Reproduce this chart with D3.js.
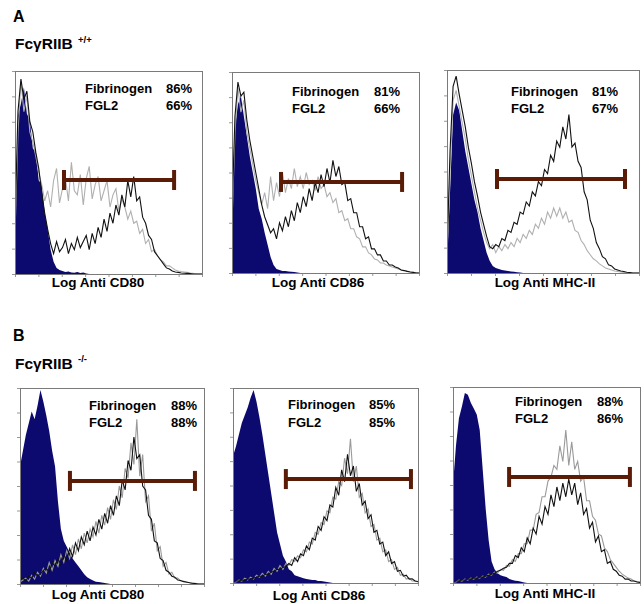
<!DOCTYPE html>
<html><head><meta charset="utf-8">
<script src="https://cdn.jsdelivr.net/npm/d3@7/dist/d3.min.js"></script>
<style>
body{margin:0;background:#fff}
svg{display:block}
text{font-family:"Liberation Sans",Arial,Helvetica,sans-serif;font-weight:bold;fill:#000}
</style>
</head><body>
<svg id="chart" width="644" height="604"></svg>
<script>
// ---------- DATA ----------
const sectionLabels = ["A", "B"];
const genotypes = ["+/+", "-/-"];
const markers = ["Log Anti CD80", "Log Anti CD86", "Log Anti MHC-II", "Log Anti CD80", "Log Anti CD86", "Log Anti MHC-II"];
const fibrinogenPct = [86, 81, 81, 88, 85, 88];
const fgl2Pct = [66, 66, 67, 88, 85, 86];
// gate (bar) range in channel units (0..63) and height in % of max count
const gateLow = [16.5, 16.5, 16.4, 17.1, 18.0, 18.9];
const gateHigh = [53.6, 57.3, 58.4, 59.9, 60.6, 59.6];
const gateLevel = [46.3, 45.3, 46.3, 52.6, 53.3, 54.1];

// histogram counts (% of max) for 64 channels: isotype (blue), FGL2 (black), fibrinogen (gray)
const blueA1 = [20,78,84,92,79,76,62,60, 46,44,30,22,12,6,3,2, 1.5,1,1.2,0.8,0.6,1,0.5,0.8, 0.3,0,0,0,0,0,0,0, 0,0,0,0,0,0,0,0, 0,0,0,0,0,0,0,0, 0,0,0,0,0,0,0,0, 0,0,0,0,0,0,0,0];
const blackA1 = [25,80,96,86,90,75,70,60, 52,40,30,22,15,10,16,11, 13,17,10,15,12,18,13,16, 19,12,20,15,23,18,27,21, 30,25,34,29,39,33,46,38, 48,36,38,28,25,19,17,11, 9,7,5,3,2.5,1.5,1,0.8, 0.5,0.4,0.3,0.2,0,0,0,0];
const grayA1 = [20,70,95,80,88,70,65,58, 50,44,36,41,33,46,52,35, 42,47,36,55,41,39,49,34, 47,53,37,44,48,36,41,46, 33,39,42,31,37,33,27,31, 25,26,20,22,15,17,11,12, 9,7,6,4,4,3,2,1.5, 1.2,1,0.8,0.5,0.3,0,0,0];

const blueA2 = [35,72,84,88,78,68,58,50, 42,32,27,20,14,8,4,2, 1.5,1,1,0.8,0.6,0.5,0.3,0, 0,0,0,0,0,0,0,0, 0,0,0,0,0,0,0,0, 0,0,0,0,0,0,0,0, 0,0,0,0,0,0,0,0, 0,0,0,0,0,0,0,0];
const blackA2 = [30,78,95,88,90,76,66,58, 50,42,34,28,24,20,22,17, 25,21,28,23,31,26,35,30, 38,33,42,36,45,40,49,43, 52,45,56,48,53,44,45,36, 37,30,30,23,23,17,18,12, 12,9,9,6,6,4,4,3, 2.5,1.5,1.2,0.8,0.5,0.3,0,0];
const grayA2 = [25,70,92,80,86,70,62,54, 46,40,34,40,32,48,36,45, 38,50,40,47,42,52,43,48, 42,50,44,46,41,48,42,44, 38,40,35,37,30,31,26,27, 22,22,18,17,13,13,10,9, 7,6.5,5,5,4,3.5,3,2.5, 2,1.5,1.2,1,0.6,0.4,0.2,0];

const blueA3 = [5,40,78,84,80,70,60,52, 44,36,30,22,16,10,6,3.5, 2.5,2,1.5,1.2,1,0.8,0.6,0.4, 0.2,0,0,0,0,0,0,0, 0,0,0,0,0,0,0,0, 0,0,0,0,0,0,0,0, 0,0,0,0,0,0,0,0, 0,0,0,0,0,0,0,0];
const blackA3 = [10,60,92,97,88,80,72,62, 54,45,38,30,24,18,13,12, 14,13,17,16,21,20,25,24, 30,29,35,33,40,38,45,43, 51,49,58,55,65,62,72,66, 78,62,64,55,52,40,36,26, 22,15,12,8,7,4,3.5,2, 1.5,1,0.7,0.4,0.2,0,0,0];
const grayA3 = [8,50,85,90,82,74,66,56, 48,40,32,26,20,15,12,14, 10,13,11,14,12,15,13,17, 15,19,17,21,19,24,22,27, 24,30,27,32,28,32,27,30, 25,26,21,20,16,14,11,9, 7,6,4.5,3.5,2.5,2,1.5,1, 0.8,0.5,0.3,0,0,0,0,0];

const blueB1 = [60,68,76,82,88,84,91,99, 93,86,78,68,60,42,28,22, 19,16,13,11,9,7,5,3.5, 2.5,1.8,1.2,1,0.8,0.5,0.3,0, 0,0,0,0,0,0,0,0, 0,0,0,0,0,0,0,0, 0,0,0,0,0,0,0,0, 0,0,0,0,0,0,0,0];
const blackB1 = [2,3,1.5,4,3,6,4,5, 7,8,6,11,9,13,10,15, 12,18,14,21,17,24,20,27, 22,29,25,33,28,36,31,40, 35,45,40,53,48,63,58,75, 64,66,50,48,35,33,22,21, 13,12,7,6,4,3.5,2,1.8, 1.2,1,0.6,0.4,0.2,0,0,0];
const grayB1 = [1,2,3,1.5,4.5,2.5,6,4, 8,5.5,11,7,12,9,15,11, 17,13,20,15,23,18,26,21, 28,24,32,26,35,30,39,33, 43,38,50,44,59,54,72,61, 84,55,66,42,45,27,31,17, 19,9,11,5,6,3,3,1.5, 1.5,0.8,0.8,0.3,0.3,0,0,0];

const blueB2 = [65,70,76,82,86,90,95,99, 93,85,76,66,56,46,36,26, 20,14,11,7,6,4,3.5,3, 2.5,2,1.8,1.5,1.5,1,1,0.8, 0.5,0.3,0,0,0,0,0,0, 0,0,0,0,0,0,0,0, 0,0,0,0,0,0,0,0, 0,0,0,0,0,0,0,0];
const blackB2 = [0.5,1,1,1.5,1.5,2,2,2.5, 3,3.5,3.5,4.5,4.5,5.5,6,7, 7,8,8.5,10,9,13,11,15, 14,19,17,23,22,29,27,34, 32,40,39,49,45,58,52,66, 55,60,47,51,40,42,33,35, 26,27,20,21,14,16,10,11, 6,6.5,3.5,4,2,2.2,1,0.8];
const grayB2 = [0.5,0.5,1.5,1,2.5,1.5,3,2, 4,3,5,3.5,6,4.5,7.5,6, 9,7,10,9,12,11,14,13, 17,16,21,20,26,25,31,30, 37,36,44,43,52,50,64,56, 74,52,60,44,46,36,38,29, 30,22,23,16,17,11,12,7, 8,4,4.5,2,2.5,1,1,0.5];

const blueB3 = [50,70,84,90,97,96,92,89, 86,78,58,38,22,11,7,5, 4,3.5,3,2,1.5,1.2,1,0.6, 0.3,0,0,0,0,0,0,0, 0,0,0,0,0,0,0,0, 0,0,0,0,0,0,0,0, 0,0,0,0,0,0,0,0, 0,0,0,0,0,0,0,0];
const blackB3 = [0.5,1,1,1.5,1.5,2,2,2.5, 2.5,3,3,3.5,4,4.5,5,6, 6.5,7.5,8,10,10,14,13,18, 16,23,20,28,25,34,30,39, 35,45,39,49,42,51,44,53, 45,51,40,46,35,38,28,31, 21,24,16,17,10,11,7,6, 4,3.5,2,2,1,1,0.5,0.3];
const grayB3 = [0.5,0.5,1.5,1,2,1.5,2.5,2, 3,2.5,3.5,3,4.5,4,5.5,5, 7,6.5,9,8.5,12,11,15,15, 20,20,27,27,35,36,44,44, 52,54,60,58,70,62,78,60, 72,58,62,52,54,42,42,34, 32,25,24,18,16,12,10,8, 6,4.5,3.5,2.5,2,1,0.8,0.4];

const blueSeries = [blueA1, blueA2, blueA3, blueB1, blueB2, blueB3];
const blackSeries = [blackA1, blackA2, blackA3, blackB1, blackB2, blackB3];
const graySeries = [grayA1, grayA2, grayA3, grayB1, grayB2, grayB3];

// ---------- LAYOUT ----------
const frames = [
  {x0:15, x1:202, y0:71, y1:274, lx:85, rx:192, ly:93, ly2:110, ax:98, ay:287},
  {x0:232, x1:419, y0:72, y1:273, lx:292, rx:400, ly:96, ly2:113, ax:318, ay:287},
  {x0:447, x1:639, y0:70, y1:273, lx:511, rx:618, ly:96, ly2:113, ax:545, ay:287},
  {x0:20, x1:204, y0:388, y1:584, lx:89, rx:197, ly:410, ly2:427, ax:98, ay:599},
  {x0:233, x1:418, y0:388, y1:583, lx:288, rx:395, ly:409, ly2:427, ax:319, ay:600},
  {x0:453, x1:640, y0:387, y1:583, lx:515, rx:623, ly:406, ly2:423, ax:545, ay:598}
];
const headers = [{ly:22, gy:49, sy:43}, {ly:341, gy:369, sy:362}];

const BLUE = "#0c0a6e", BROWN = "#5a1c06", FRAME = "#7a7a7a";

const svg = d3.select("#chart");

headers.forEach((h, k) => {
  svg.append("text").attr("x", 13).attr("y", h.ly).attr("font-size", 16).text(sectionLabels[k]);
  svg.append("text").attr("x", 15).attr("y", h.gy).attr("font-size", 15.5).text("Fc\u03B3RIIB");
  svg.append("text").attr("x", 78).attr("y", h.sy).attr("font-size", 9.5).text(genotypes[k]);
});

frames.forEach((f, p) => {
  const g = svg.append("g");
  const x = d3.scaleLinear().domain([0, 63]).range([f.x0, f.x1]);
  const y = d3.scaleLinear().domain([0, 100]).range([f.y1, f.y0]);

  g.append("g").attr("transform", `translate(0,${f.y1})`)
    .call(d3.axisBottom(x).tickValues(d3.range(9).map(k => k * 63 / 8)).tickSize(3).tickFormat(""))
    .call(s => { s.select(".domain").remove(); s.selectAll("line").attr("stroke", "#999"); });
  g.append("g").attr("transform", `translate(${f.x0},0)`)
    .call(d3.axisLeft(y).tickValues(d3.range(9).map(k => k * 12.5)).tickSize(3).tickFormat(""))
    .call(s => { s.select(".domain").remove(); s.selectAll("line").attr("stroke", "#999"); });

  const clipId = "clip" + p;
  svg.append("clipPath").attr("id", clipId).append("rect")
    .attr("x", f.x0).attr("y", f.y0).attr("width", f.x1 - f.x0).attr("height", f.y1 - f.y0);
  const inner = g.append("g").attr("clip-path", `url(#${clipId})`);

  const area = d3.area().x((d, i) => x(i)).y0(y(0)).y1(d => y(d));
  const line = d3.line().x((d, i) => x(i)).y(d => y(d));

  inner.append("path").datum(blueSeries[p]).attr("d", area).attr("fill", BLUE);
  inner.append("path").datum(graySeries[p]).attr("d", line)
    .attr("fill", "none").attr("stroke", p < 3 ? "#b0b0b0" : "#9a9a9a").attr("stroke-width", 1.1);
  inner.append("path").datum(blackSeries[p]).attr("d", line)
    .attr("fill", "none").attr("stroke", "#111").attr("stroke-width", 1.1);

  g.append("rect").attr("x", f.x0 + 0.5).attr("y", f.y0 + 0.5)
    .attr("width", f.x1 - f.x0).attr("height", f.y1 - f.y0)
    .attr("fill", "none").attr("stroke", FRAME).attr("stroke-width", 1);

  const gy = y(gateLevel[p]);
  g.append("line").attr("x1", x(gateLow[p])).attr("x2", x(gateHigh[p])).attr("y1", gy).attr("y2", gy)
    .attr("stroke", BROWN).attr("stroke-width", 4);
  [gateLow[p], gateHigh[p]].forEach(v => {
    g.append("line").attr("x1", x(v)).attr("x2", x(v)).attr("y1", gy - 10).attr("y2", gy + 10)
      .attr("stroke", BROWN).attr("stroke-width", 4);
  });

  g.append("text").attr("x", f.lx).attr("y", f.ly).attr("font-size", 13).text("Fibrinogen");
  g.append("text").attr("x", f.rx).attr("y", f.ly).attr("font-size", 13).attr("text-anchor", "end").text(fibrinogenPct[p] + "%");
  g.append("text").attr("x", f.lx).attr("y", f.ly2).attr("font-size", 13).text("FGL2");
  g.append("text").attr("x", f.rx).attr("y", f.ly2).attr("font-size", 13).attr("text-anchor", "end").text(fgl2Pct[p] + "%");

  g.append("text").attr("x", f.ax).attr("y", f.ay).attr("font-size", 13.5).attr("text-anchor", "middle").text(markers[p]);
});
</script>
</body></html>
